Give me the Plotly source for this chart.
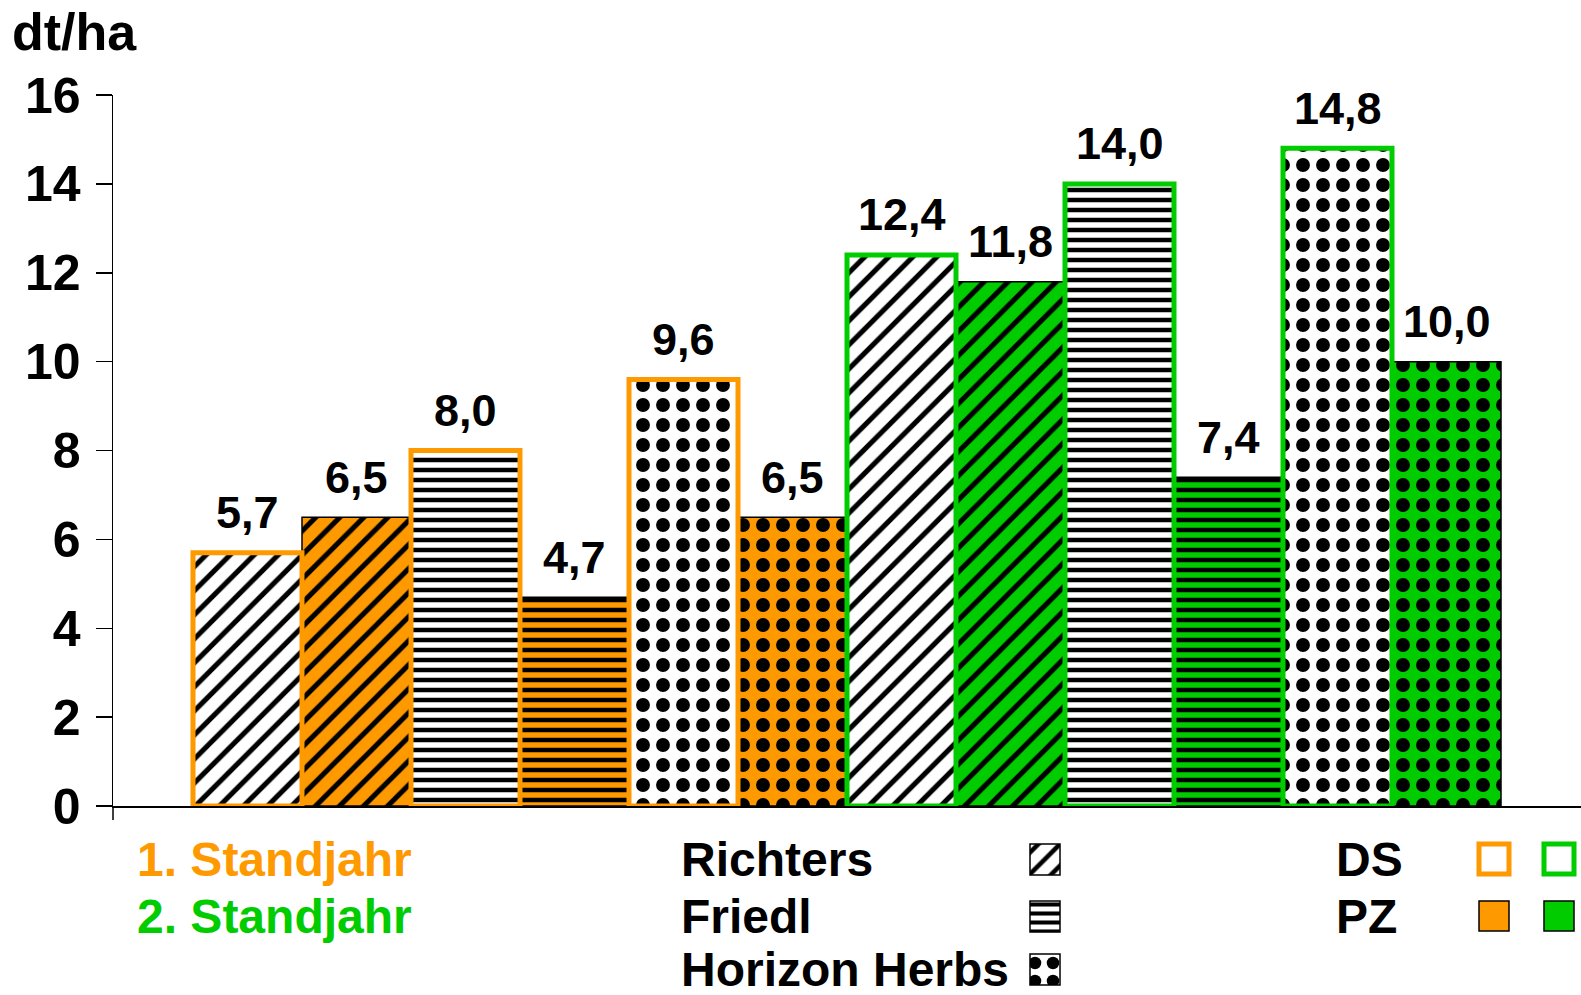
import plotly.graph_objects as go

# ---------------- data ----------------
years = ["1. Standjahr", "2. Standjahr"]
varieties = ["Richters", "Friedl", "Horizon Herbs"]
methods = ["DS", "PZ"]
values = [5.7, 6.5, 8.0, 4.7, 9.6, 6.5, 12.4, 11.8, 14.0, 7.4, 14.8, 10.0]
bar_year = [0, 0, 0, 0, 0, 0, 1, 1, 1, 1, 1, 1]
bar_variety = [0, 0, 1, 1, 2, 2, 0, 0, 1, 1, 2, 2]
bar_method = [0, 1, 0, 1, 0, 1, 0, 1, 0, 1, 0, 1]
y_ticks = [0, 2, 4, 6, 8, 10, 12, 14, 16]
y_unit = "dt/ha"

# ---------------- style ----------------
W, H = 1581, 995
FONT = "Liberation Sans, Arial, sans-serif"
year_colors = ["#FF9900", "#00CC00"]
pattern_shape = {0: "/", 1: "-", 2: "."}
pattern_size = {0: 17, 1: 10, 2: 20}
pattern_solid = {0: 0.30, 1: 0.45, 2: 0.38}

# pixel geometry of the main plot
X_LEFT, X_RIGHT = 113, 1581
Y_ZERO, Y_TOP = 806, 95
BAR_W = 109
FIRST_CENTER = 193 + BAR_W / 2

fig = go.Figure()


def add_bar(i):
    yr, va, me = bar_year[i], bar_variety[i], bar_method[i]
    col = year_colors[yr]
    if me == 0:  # DS: white background, coloured outline
        bg, lc, lw = "white", col, 5
    else:        # PZ: coloured background, thin black outline
        bg, lc, lw = col, "black", 1.5
    fig.add_trace(go.Bar(
        x=[i], y=[values[i]], width=1.0,
        marker=dict(
            color=bg,
            line=dict(color=lc, width=lw),
            pattern=dict(shape=pattern_shape[va], size=pattern_size[va],
                         solidity=pattern_solid[va], fgcolor="black",
                         bgcolor=bg, fillmode="replace"),
        ),
        showlegend=False, hoverinfo="skip",
    ))


# PZ bars first so that DS outlines are drawn on top
for i in range(len(values)):
    if bar_method[i] == 1:
        add_bar(i)
for i in range(len(values)):
    if bar_method[i] == 0:
        add_bar(i)

# value labels
for i, v in enumerate(values):
    fig.add_annotation(x=i, y=v, text=f"{v:.1f}".replace(".", ","),
                       showarrow=False, yanchor="middle", yshift=40,
                       font=dict(family=FONT, size=45, color="black", weight="bold"))

x0 = (X_LEFT - FIRST_CENTER) / BAR_W
x1 = (X_RIGHT - FIRST_CENTER) / BAR_W

fig.update_layout(
    width=W, height=H,
    margin=dict(l=0, r=0, t=0, b=0, autoexpand=False),
    paper_bgcolor="white", plot_bgcolor="rgba(0,0,0,0)",
    barmode="overlay",
    bargap=0,
    hovermode=False,
    xaxis=dict(domain=[X_LEFT / W, X_RIGHT / W], range=[x0, x1],
               showgrid=False, zeroline=False, showticklabels=False,
               showline=True, linecolor="black", linewidth=2, ticks="",
               automargin=False),
    yaxis=dict(domain=[1 - Y_ZERO / H, 1 - Y_TOP / H], range=[0, 16],
               tickvals=y_ticks, ticktext=[str(t) for t in y_ticks],
               showgrid=False, zeroline=False,
               showline=True, linecolor="black", linewidth=1.5,
               ticks="outside", ticklen=16, tickwidth=1.5, tickcolor="black",
               ticklabelstandoff=5, automargin=False,
               tickfont=dict(family=FONT, size=50, color="black", weight="bold")),
    # pixel-coordinate overlay for the legend block
    xaxis2=dict(domain=[0, 1], range=[0, W], visible=False, anchor="y2", automargin=False),
    yaxis2=dict(domain=[0, 1], range=[H, 0], visible=False, anchor="x2", automargin=False),
)

# y-axis line extension below zero
fig.add_shape(type="line", xref="x2", yref="y2", x0=X_LEFT, x1=X_LEFT,
              y0=Y_ZERO, y1=Y_ZERO + 14, line=dict(color="black", width=1.5))

# unit title
fig.add_annotation(xref="x2", yref="y2", x=10, y=32, text=y_unit, showarrow=False,
                   xanchor="left", yanchor="middle",
                   font=dict(family=FONT, size=52, color="black", weight="bold"))

# legend: years
row_y = [859, 916, 969]
for k, yname in enumerate(years):
    fig.add_annotation(xref="x2", yref="y2", x=135, y=row_y[k], text=yname,
                       showarrow=False, xanchor="left", yanchor="middle",
                       font=dict(family=FONT, size=48, color=year_colors[k], weight="bold"))

# legend: varieties with pattern icons
for k, vname in enumerate(varieties):
    fig.add_annotation(xref="x2", yref="y2", x=679, y=row_y[k], text=vname,
                       showarrow=False, xanchor="left", yanchor="middle",
                       font=dict(family=FONT, size=48, color="black", weight="bold"))
    fig.add_trace(go.Bar(
        x=[1045], y=[31], base=[row_y[k] - 15], width=[30],
        xaxis="x2", yaxis="y2",
        marker=dict(color="white", line=dict(color="black", width=1.5),
                    pattern=dict(shape=pattern_shape[k], size=pattern_size[k] * 0.9,
                                 solidity=pattern_solid[k], fgcolor="black",
                                 bgcolor="white", fillmode="replace")),
        showlegend=False, hoverinfo="skip",
    ))

# legend: methods
for k, mname in enumerate(methods):
    fig.add_annotation(xref="x2", yref="y2", x=1334, y=row_y[k], text=mname,
                       showarrow=False, xanchor="left", yanchor="middle",
                       font=dict(family=FONT, size=48, color="black", weight="bold"))

sq_x = [1494, 1559]
for c, col in enumerate(year_colors):
    cx = sq_x[c]
    # DS: outlined square
    fig.add_shape(type="rect", xref="x2", yref="y2",
                  x0=cx - 15, x1=cx + 15, y0=row_y[0] - 15, y1=row_y[0] + 15,
                  line=dict(color=col, width=5), fillcolor="white")
    # PZ: filled square
    fig.add_shape(type="rect", xref="x2", yref="y2",
                  x0=cx - 15, x1=cx + 15, y0=row_y[1] - 15, y1=row_y[1] + 15,
                  line=dict(color="black", width=1.5), fillcolor=col)

fig.write_html("out.html",
               config={"displayModeBar": False, "staticPlot": True},
               post_script="document.body.style.margin='0';document.body.style.overflow='hidden';")
